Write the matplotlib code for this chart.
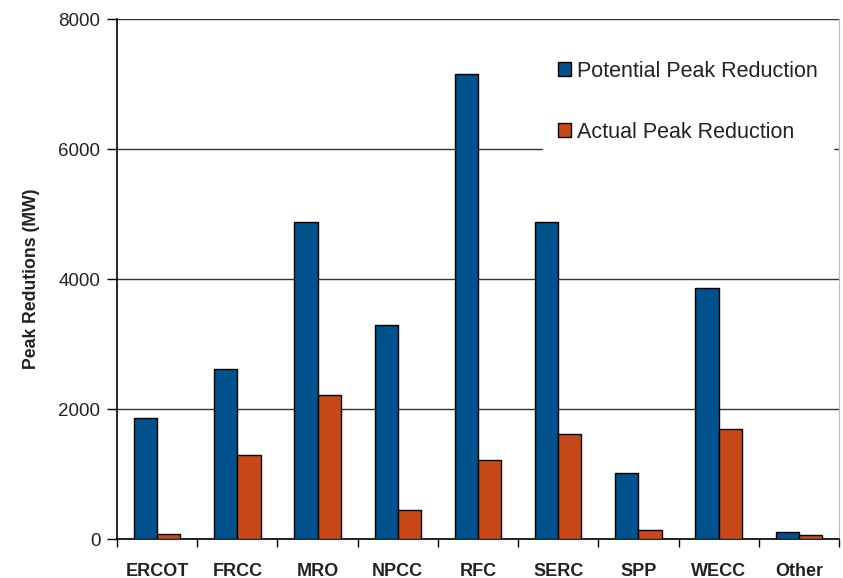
import matplotlib.pyplot as plt
import numpy as np

regions = ['ERCOT', 'FRCC', 'MRO', 'NPCC', 'RFC', 'SERC', 'SPP', 'WECC', 'Other']
potential = [1860, 2620, 4880, 3290, 7160, 4880, 1010, 3860, 110]
actual = [80, 1300, 2220, 450, 1210, 1610, 140, 1690, 60]

plt.rcParams['font.family'] = ['Liberation Sans', 'DejaVu Sans']

fig = plt.figure(figsize=(8.43, 5.78), dpi=100)
ax = fig.add_axes([117 / 843, 1 - 539 / 578, (839 - 117) / 843, (539 - 19) / 578])

x = np.arange(len(regions))
w = 0.29
ax.bar(x - w / 2, potential, w, color='#00518C', edgecolor='black', linewidth=1,
       label='Potential Peak Reduction', zorder=3)
ax.bar(x + w / 2, actual, w, color='#C8481A', edgecolor='black', linewidth=1,
       label='Actual Peak Reduction', zorder=3)

ax.set_xlim(-0.5, len(regions) - 0.5)
ax.set_ylim(0, 8000)
ax.set_yticks([0, 2000, 4000, 6000, 8000])
ax.yaxis.grid(True, color='#333333', linewidth=1, zorder=0)
ax.tick_params(axis='y', labelsize=13.5, direction='out', length=7, width=1, pad=5,
               labelcolor='#222222')

ax.set_xticks(x)
ax.set_xticklabels(regions, fontsize=13, fontweight='bold', color='#222222')
ax.set_xticks(np.arange(len(regions) + 1) - 0.5, minor=True)
ax.tick_params(axis='x', which='major', length=0, pad=17)
ax.tick_params(axis='x', which='minor', length=6, width=1, direction='out')

ax.spines['top'].set_visible(False)
ax.spines['right'].set_color('#bbbbbb')
ax.spines['left'].set_linewidth(1.2)
ax.spines['bottom'].set_linewidth(1.2)

ax.set_ylabel('Peak Redutions (MW)', fontsize=12.7, fontweight='bold', labelpad=13,
              color='#222222')

leg = ax.legend(loc='upper right', bbox_to_anchor=(0.998, 0.957), frameon=True,
                fontsize=15.5, handlelength=0.6, handleheight=0.6, handletextpad=0.3,
                labelspacing=1.85, borderpad=0.7, borderaxespad=0.2, fancybox=False)
leg.get_frame().set_edgecolor('white')
leg.get_frame().set_facecolor('white')
leg.get_frame().set_alpha(1)
leg.set_zorder(5)
for t in leg.get_texts():
    t.set_color('#222222')

fig.savefig('out.png', dpi=100)
